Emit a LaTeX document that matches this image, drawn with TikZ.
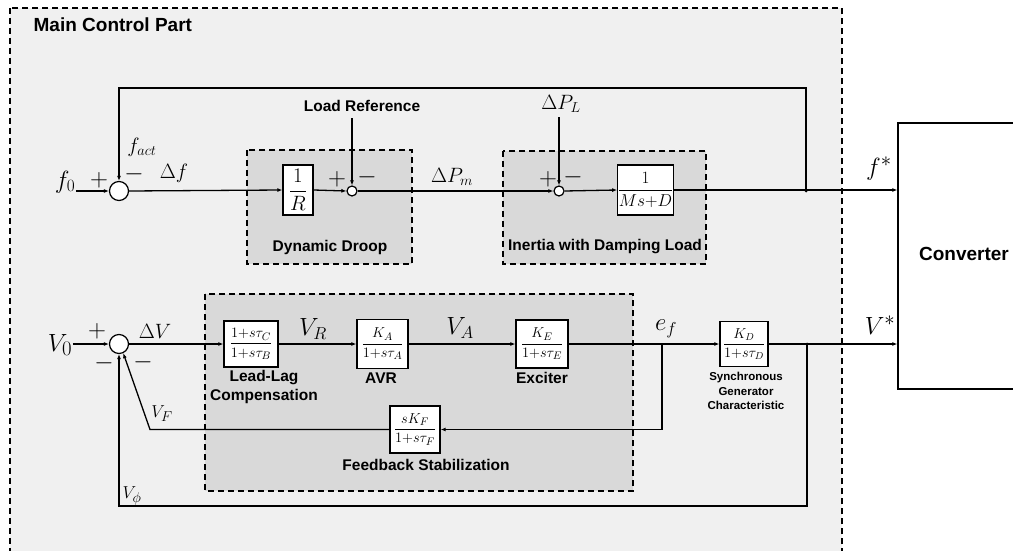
\documentclass[tikz,border=0pt]{standalone}
\usepackage{amsmath}
\usepackage{fontspec}
\setmainfont{Liberation Serif}
\newfontfamily\labfont{Liberation Sans}
\usetikzlibrary{arrows.meta}
\definecolor{outergrey}{HTML}{F0F0F0}
\definecolor{innergrey}{HTML}{D9D9D9}
\newcommand{\fsz}[1]{\fontsize{#1}{#1}\selectfont}
\begin{document}
\begin{tikzpicture}[x=1pt,y=-1pt,line width=1.3pt,
  >={Latex[length=5pt,width=4pt]},
  grp/.style={draw,fill=innergrey,line width=1.2pt,dash pattern=on 6pt off 4pt},
  blk/.style={draw,fill=white,line width=1.3pt,inner sep=0pt},
  bsum/.style={draw,fill=white,circle,minimum size=19pt,inner sep=0pt,line width=1.2pt},
  ssum/.style={draw,fill=white,circle,minimum size=10pt,inner sep=0pt,line width=1.2pt},
  lab/.style={font=\labfont\bfseries\fontsize{15.5}{19}\selectfont,align=center,inner sep=0pt},
  sml/.style={font=\labfont\bfseries\fontsize{11.5}{14.5}\selectfont,align=center,inner sep=0pt},
  mth/.style={inner sep=0pt},
  sgn/.style={inner sep=0pt,font=\fsz{26}},
  dot/.style={circle,fill,inner sep=0pt,minimum size=3pt}]

\useasboundingbox (0,0) rectangle (1013,551);
\clip (0,0) rectangle (1013,551);
\fill[white] (0,0) rectangle (1013,551);

% main control area and inner groups
\draw[fill=outergrey,line width=1.2pt,dash pattern=on 6pt off 4pt] (10,8) rectangle (842,580);
\node[anchor=west,font=\labfont\bfseries\fontsize{19}{22}\selectfont,inner sep=0pt] (title) at (33,25) {Main Control Part};
\draw[grp] (247,150) rectangle (412,264);
\draw[grp] (503,151) rectangle (706,264);
\draw[grp] (205,294) rectangle (633,491);

% converter
\node[draw,fill=white,line width=1.3pt,minimum width=132pt,minimum height=266pt,inner sep=0pt,
      font=\labfont\bfseries\fontsize{19}{22}\selectfont,text depth=0pt] (conv) at (964,256) {\raisebox{4pt}{Converter}};

% ---------------- frequency loop ----------------
\node[bsum] (s1) at (119,191) {};
\node[blk,minimum width=30pt,minimum height=50pt,font=\fsz{22}] (R) at (298,190) {$\dfrac{1}{R}$};
\node[ssum] (s2) at (352,191) {};
\node[ssum] (s3) at (559,191) {};
\node[blk,minimum width=55pt,minimum height=50pt,font=\fsz{16}] (MD) at (645.5,190) {$\dfrac{1}{Ms{+}D}$};
\coordinate (fb) at (806,191);
\coordinate (ftop) at (806,88);

\node[mth,font=\fsz{26}] (f0) at (65,182) {$f_0$};
\node[mth,font=\fsz{21}] (fact) at (142,147) {$f_{act}$};
\node[mth,font=\fsz{21}] (df) at (174,173) {$\Delta f$};
\node[lab] (lref) at (362,106) {Load Reference};
\node[mth,font=\fsz{20}] (dpm) at (452,177) {$\Delta P_m$};
\node[mth,font=\fsz{20}] (dpl) at (561,104) {$\Delta P_L$};
\node[mth,font=\fsz{28}] (fstar) at (879,169) {$f^*$};
\node[lab] (ddroop) at (330,247) {Dynamic Droop};
\node[lab] (inertia) at (605,247) {Inertia with Damping Load};

\node[sgn] at (99,180) {$+$};
\node[sgn] at (134,174) {$-$};
\node[sgn] at (337,179) {$+$};
\node[sgn] at (367,177) {$-$};
\node[sgn] at (548,179) {$+$};
\node[sgn] at (573,177) {$-$};

\draw[->] (f0.east |- s1.west) -- (s1.west);
\draw[->] (s1.east) -- (R.west);
\draw[->] (R.east) -- (s2.west);
\draw[->] (s2 |- lref.south) ++(0,6) -- (s2.north);
\draw[->] (s2.east) -- (s3.west);
\draw[->] (s3 |- dpl.south) ++(0,4) -- (s3.north);
\draw[->] (s3.east) -- (MD.west);
\draw[->] (MD.east) -- (conv.west |- MD.east);
\draw[->] (fb) -- (ftop) -| (s1.north);
\node[dot] at (fb) {};

% ---------------- voltage loop ----------------
\node[bsum] (s4) at (119,344) {};
\node[blk,minimum width=54pt,minimum height=46pt,font=\fsz{15}] (LL) at (251,344) {$\dfrac{1{+}s\tau_C}{1{+}s\tau_B}$};
\node[blk,minimum width=51pt,minimum height=49pt,font=\fsz{15}] (AVR) at (382.5,344) {$\dfrac{K_A}{1{+}s\tau_A}$};
\node[blk,minimum width=52pt,minimum height=48pt,font=\fsz{15}] (EXC) at (542,344) {$\dfrac{K_E}{1{+}s\tau_E}$};
\node[blk,minimum width=48pt,minimum height=45pt,font=\fsz{14}] (SG) at (744,344) {$\dfrac{K_D}{1{+}s\tau_D}$};
\node[blk,minimum width=50pt,minimum height=47pt,font=\fsz{15}] (FB) at (415,429.5) {$\dfrac{sK_F}{1{+}s\tau_F}$};
\coordinate (ef) at (662,344);
\coordinate (vfc) at (150,429.5);
\coordinate (vb) at (807,344);
\coordinate (vbot) at (807,506);

\node[mth,font=\fsz{28}] (V0) at (60,345) {$V_0$};
\node[mth,font=\fsz{21}] (dV) at (155,331) {$\Delta V$};
\node[mth,font=\fsz{23}] (VR) at (313,329) {$V_R$};
\node[mth,font=\fsz{23}] (VA) at (460,328) {$V_A$};
\node[mth,font=\fsz{23}] (efl) at (666,329) {$e_f$};
\node[mth,font=\fsz{19}] (VF) at (162,414) {$V_F$};
\node[mth,font=\fsz{19}] (Vphi) at (132,496) {$V_\phi$};
\node[mth,font=\fsz{28}] (Vstar) at (880,325) {$V^*$};

\node[sgn] at (97,331) {$+$};
\node[sgn] at (104,363) {$-$};
\node[sgn] at (143,362) {$-$};

\node[lab] (llt) at (264,387) {Lead-Lag\\Compensation};
\node[lab] (avrt) at (381,378) {AVR};
\node[lab] (exct) at (542,378) {Exciter};
\node[lab] (fbt) at (426,465) {Feedback Stabilization};
\node[sml] (sgt) at (746,391) {Synchronous\\Generator\\Characteristic};

\draw[->] (V0.east |- s4.west) -- (s4.west);
\draw[->] (s4.east) -- (LL.west);
\draw[->] (LL.east) -- (AVR.west);
\draw[->] (AVR.east) -- (EXC.west);
\draw[->] (EXC.east) -- (SG.west);
\draw[->] (ef) |- (FB.east);
\draw[->] (FB.west) -- (vfc) -- (s4.-65);
\draw[->] (SG.east) -- (conv.west |- SG.east);
\draw[->] (vb) -- (vbot) -| (s4.south);
\node[dot] at (vb) {};
\end{tikzpicture}
\end{document}
